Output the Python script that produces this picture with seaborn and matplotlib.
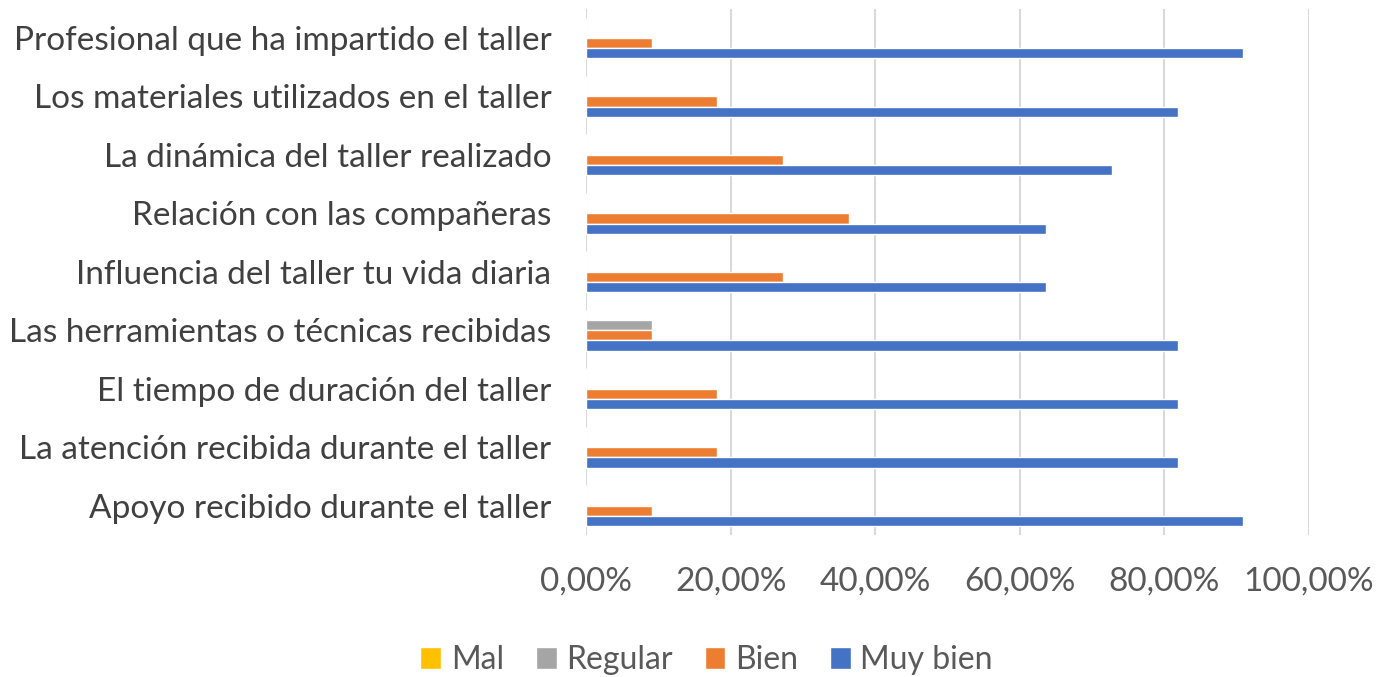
import numpy as np
import seaborn as sns
import pandas as pd
import matplotlib.pyplot as plt
import matplotlib.ticker as ticker

categories = [
    'Profesional que ha impartido el taller',
    'Los materiales utilizados en el taller',
    'La dinámica del taller realizado',
    'Relación con las compañeras',
    'Influencia del taller tu vida diaria',
    'Las herramientas o técnicas recibidas',
    'El tiempo de duración del taller',
    'La atención recibida durante el taller',
    'Apoyo recibido durante el taller',
]
series = ['Mal', 'Regular', 'Bien', 'Muy bien']
mal = [0, 0, 0, 0, 0, 0, 0, 0, 0]
regular = [0, 0, 0, 0, 0, 9.09, 0, 0, 0]
bien = [9.09, 18.18, 27.27, 36.36, 27.27, 9.09, 18.18, 18.18, 9.09]
muy_bien = [90.91, 81.82, 72.73, 63.64, 63.64, 81.82, 81.82, 81.82, 90.91]
xticks = [0, 20, 40, 60, 80, 100]

colors = {'Mal': '#FFC000', 'Regular': '#A5A5A5', 'Bien': '#ED7D31', 'Muy bien': '#4472C4'}

sns.set_theme(style='white')
plt.rcParams['font.family'] = ['Lato', 'DejaVu Sans']

# long table for seaborn
rows = []
for name, vals in zip(series, [mal, regular, bien, muy_bien]):
    for cat, v in zip(categories, vals):
        rows.append({'Pregunta': cat, 'Valoración': name, 'Porcentaje': v})
df = pd.DataFrame(rows)

fig = plt.figure(figsize=(13.91, 6.77), dpi=100)
ax = fig.add_axes([0.4213, 0.21, 0.5198, 0.777])

sns.barplot(
    data=df, y='Pregunta', x='Porcentaje', hue='Valoración',
    order=categories, hue_order=series, palette=colors,
    orient='h', width=0.7, saturation=1, ax=ax, legend=True,
)

ax.set_xlim(0, 100)
ax.set_xticks(xticks)
ax.xaxis.set_major_formatter(
    ticker.FuncFormatter(lambda v, p: f'{v:.2f}%'.replace('.', ',')))
ax.grid(axis='x', color='#D9D9D9', linewidth=1.5)
ax.set_axisbelow(True)
for s in ax.spines.values():
    s.set_visible(False)
ax.set_xlabel('')
ax.set_ylabel('')
ax.tick_params(axis='x', labelsize=24, colors='#595959', pad=23, length=0)
ax.tick_params(axis='y', labelsize=24, colors='#404040', pad=25, length=0)

handles, labels = ax.get_legend_handles_labels()
ax.get_legend().remove()
fig.legend(handles, labels, loc='center', bbox_to_anchor=(0.508, 0.025),
           ncol=4, frameon=False, fontsize=23, labelcolor='#595959',
           handlelength=0.65, handleheight=0.65, handletextpad=0.3,
           columnspacing=1.0)

fig.savefig('out.png', dpi=100)
